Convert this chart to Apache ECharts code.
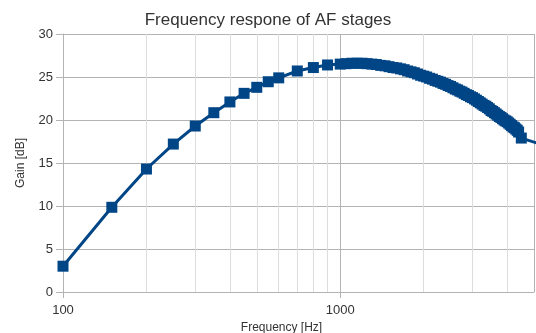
<!DOCTYPE html>
<html>
<head>
<meta charset="utf-8">
<script src="https://cdn.jsdelivr.net/npm/echarts@6/dist/echarts.min.js"></script>
<style>
    html, body { margin: 0; padding: 0; background: #fff; }
    #chart { width: 536px; height: 333px; }
</style>
</head>
<body>
<div id="chart"></div>
<script>
// measured points
var freqs = [100, 150, 200, 250, 300, 350, 400, 450, 500, 550, 600, 700, 800, 900,
    1000, 1050, 1100, 1150, 1200, 1250, 1300, 1350, 1400, 1450, 1500, 1550, 1600, 1650, 1700, 1750,
    1800, 1850, 1900, 1950, 2000, 2050, 2100, 2150, 2200, 2250, 2300, 2350, 2400, 2450, 2500,
    2550, 2600, 2650, 2700, 2750, 2800, 2850, 2900, 2950, 3000, 3050, 3100, 3150, 3200, 3250,
    3300, 3350, 3400, 3450, 3500, 3550, 3600, 3650, 3700, 3750, 3800, 3850, 3900, 3950, 4000,
    4050, 4100, 4150, 4200, 4250, 4300, 4350, 4400, 4500, 5500];
var gains = [3.0, 9.85, 14.3, 17.2, 19.3, 20.85, 22.1, 23.1, 23.8, 24.45, 24.9, 25.7, 26.1, 26.4,
    26.5, 26.55, 26.6, 26.6, 26.6, 26.55, 26.5, 26.45, 26.35, 26.3, 26.2, 26.1, 26.05, 25.95, 25.85, 25.7,
    25.6, 25.5, 25.35, 25.2, 25.1, 25.0, 24.85, 24.75, 24.6, 24.5, 24.4, 24.25, 24.15, 24.0, 23.9,
    23.75, 23.6, 23.5, 23.35, 23.25, 23.1, 22.95, 22.85, 22.7, 22.6, 22.45, 22.3, 22.15, 22.0, 21.85,
    21.7, 21.6, 21.45, 21.3, 21.1, 21.0, 20.85, 20.7, 20.55, 20.4, 20.3, 20.15, 20.0, 19.9, 19.8,
    19.65, 19.5, 19.35, 19.2, 19.1, 18.95, 18.8, 18.6, 17.9, 17.0];
// minor grid of the log axis
var minorGrid = [200, 300, 400, 500, 600, 700, 800, 900, 2000, 3000, 4000];
var majorGrid = [1000];
var xLabels = [100, 1000];

var font = 'Liberation Sans';
var chart = echarts.init(document.getElementById('chart'));

var points = [];
for (var i = 0; i < freqs.length; i++) {
    points.push([freqs[i], gains[i]]);
}
var gridMarks = [];
for (var i = 0; i < minorGrid.length; i++) {
    gridMarks.push({ xAxis: minorGrid[i], lineStyle: { color: '#dddddd' } });
}
for (var i = 0; i < majorGrid.length; i++) {
    gridMarks.push({ xAxis: majorGrid[i], lineStyle: { color: '#b3b3b3' } });
}

chart.setOption({
    animation: false,
    textStyle: { fontFamily: font },
    title: {
        text: 'Frequency respone of AF stages',
        left: 'center',
        top: 7,
        textStyle: { fontFamily: font, fontSize: 17, fontWeight: 'normal', color: '#333333' }
    },
    grid: { left: 63, right: 2, top: 34, bottom: 41, containLabel: false, outerBoundsMode: 'none' },
    xAxis: {
        type: 'log',
        logBase: 10,
        min: 100,
        max: 5000,
        name: 'Frequency [Hz]',
        nameLocation: 'middle',
        nameGap: 26,
        nameTextStyle: { fontFamily: font, fontSize: 12, color: '#333333', padding: [0, 34, 0, 0] },
        axisLine: { show: true, lineStyle: { color: '#b3b3b3' } },
        axisTick: { show: true, length: 6, lineStyle: { color: '#b3b3b3' } },
        axisLabel: {
            fontFamily: font, fontSize: 13, color: '#333333', margin: 12,
            showMaxLabel: false,
            formatter: function (v) {
                return xLabels.indexOf(Math.round(v)) >= 0 ? String(Math.round(v)) : '';
            }
        },
        splitLine: { show: false },
        minorTick: { show: false },
        minorSplitLine: { show: false }
    },
    yAxis: {
        type: 'value',
        min: 0,
        max: 30,
        interval: 5,
        name: 'Gain [dB]',
        nameLocation: 'middle',
        nameGap: 36,
        nameTextStyle: { fontFamily: font, fontSize: 12, color: '#333333' },
        axisLine: { show: true, lineStyle: { color: '#b3b3b3' } },
        axisTick: { show: true, length: 7, lineStyle: { color: '#b3b3b3' } },
        axisLabel: { fontFamily: font, fontSize: 13, color: '#333333', margin: 10 },
        splitLine: { show: true, lineStyle: { color: '#b3b3b3' } }
    },
    series: [{
        // vertical grid lines behind the curve
        type: 'line',
        data: [],
        z: 1,
        silent: true,
        markLine: {
            silent: true,
            symbol: 'none',
            label: { show: false },
            lineStyle: { type: 'solid', width: 1 },
            data: gridMarks
        }
    }, {
        // right frame
        type: 'line',
        data: [],
        z: 1,
        silent: true,
        markLine: {
            silent: true,
            symbol: 'none',
            label: { show: false },
            lineStyle: { type: 'solid', width: 1, color: '#b3b3b3' },
            data: [{ xAxis: 5000 }]
        }
    }, {
        type: 'line',
        data: points,
        zlevel: 1,
        z: 3,
        showAllSymbol: true,
        symbol: 'rect',
        symbolSize: 11,
        color: '#004586',
        lineStyle: { width: 3, color: '#004586' },
        itemStyle: { color: '#004586', borderWidth: 0 }
    }]
});
</script>
</body>
</html>
